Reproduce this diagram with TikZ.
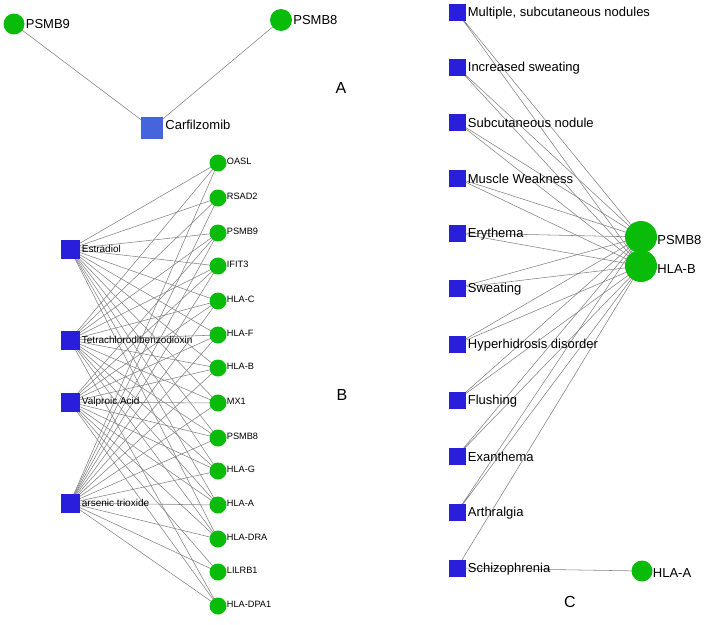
\documentclass[tikz,border=0pt]{standalone}
\usepackage{fontspec}
\setmainfont{Liberation Sans}
\usetikzlibrary{backgrounds}
\definecolor{gnode}{RGB}{10,188,10}
\definecolor{bnode}{RGB}{40,30,220}
\definecolor{anode}{RGB}{70,100,220}
\definecolor{edgec}{RGB}{130,130,130}
\tikzset{
  gene/.style={circle,fill=gnode,inner sep=0pt,minimum size=#1},
  drug/.style={rectangle,fill=bnode,inner sep=0pt,minimum size=#1},
  lblA/.style={font=\fontsize{13}{13}\selectfont,inner sep=1pt},
  lblB/.style={font=\fontsize{10}{10}\selectfont,inner sep=1pt},
  lblG/.style={font=\fontsize{9.2}{10}\selectfont,inner sep=1pt},
  lblC/.style={font=\fontsize{13}{13}\selectfont,inner sep=1pt},
  panel/.style={font=\fontsize{16}{16}\selectfont},
  edge/.style={draw=edgec,line width=0.55pt},
}
\begin{document}
\begin{tikzpicture}[x=1pt,y=-1pt]
\useasboundingbox (0,0) rectangle (704,624);
% ---------- Panel A
\node[gene=21pt,label={[lblA,anchor=west]east:PSMB9}] (a9) at (14,24) {};
\node[gene=22pt,label={[lblA,anchor=west]east:PSMB8}] (a8) at (281,20) {};
\node[rectangle,fill=anode,inner sep=0pt,minimum size=22pt,label={[lblA,anchor=west,xshift=1pt,yshift=3pt]east:Carfilzomib}] (carf) at (152,128) {};
\node[panel] (pA) at (341,88) {A};
% ---------- Panel B
\foreach \n/\y/\t in {est/249/Estradiol,tcd/340/Tetrachlorodibenzodioxin,val/402/Valproic Acid,ars/503/arsenic trioxide}
  \node[drug=19pt,label={[lblB,anchor=west,xshift=1pt]east:\t}] (\n) at (70,\y) {};
\foreach \n/\y/\t in {OASL/163/OASL,RSAD2/198/RSAD2,PSMB9/233/PSMB9,IFIT3/266/IFIT3,HLAC/301/HLA-C,HLAF/335/HLA-F,HLAB/368/HLA-B,MX1/403/MX1,PSMB8/438/PSMB8,HLAG/471/HLA-G,HLAA/505/HLA-A,HLADRA/539/HLA-DRA,LILRB1/572/LILRB1,HLADPA1/606/HLA-DPA1}
  \node[gene=17pt,label={[lblG,anchor=west,xshift=-1pt,yshift=2pt]east:\t}] (\n) at (218,\y) {};
\node[panel] (pB) at (342,395) {B};
% ---------- Panel C
\foreach \n/\y/\t in {c1/12/{Multiple, subcutaneous nodules},c2/67/Increased sweating,c3/122/Subcutaneous nodule,c4/178/Muscle Weakness,c5/233/Erythema,c6/288/Sweating,c7/344/Hyperhidrosis disorder,c8/400/Flushing,c9/456/Exanthema,c10/512/Arthralgia,c11/568/Schizophrenia}
  \node[drug=17pt,label={[lblC,anchor=west,xshift=1pt,yshift=-1pt]east:\t}] (\n) at (457,\y) {};
\node[gene=32pt,label={[lblC,anchor=west,xshift=-1pt,yshift=-3pt]east:PSMB8}] (cP8) at (641,237) {};
\node[gene=32pt,label={[lblC,anchor=west,xshift=-1pt,yshift=-3pt]east:HLA-B}] (cHB) at (641,266) {};
\node[gene=21pt,label={[lblC,anchor=west,xshift=-1pt,yshift=-2pt]east:HLA-A}] (cHA) at (642,571) {};
\node[panel] (pC) at (570,602) {C};
% ---------- Edges
\begin{pgfonlayer}{background}
\draw[edge] (a9.center) -- (carf.center);
\draw[edge] (a8.center) -- (carf.center);
\foreach \g in {OASL,RSAD2,PSMB9,IFIT3,HLAC,HLAF,HLAB,MX1,PSMB8,HLAG,HLAA,HLADRA}
  \draw[edge] (est.center) -- (\g.center);
\foreach \g in {OASL,RSAD2,PSMB9,IFIT3,HLAC,HLAF,HLAB,MX1,PSMB8,HLAG,HLAA,HLADRA,HLADPA1}
  \draw[edge] (tcd.center) -- (\g.center);
\foreach \g in {PSMB9,IFIT3,HLAC,HLAF,HLAB,MX1,PSMB8,HLAG,HLAA,HLADRA,LILRB1,HLADPA1}
  \draw[edge] (val.center) -- (\g.center);
\foreach \g in {OASL,RSAD2,PSMB9,IFIT3,HLAC,HLAF,HLAB,MX1,PSMB8,HLAG,HLAA,HLADRA,LILRB1,HLADPA1}
  \draw[edge] (ars.center) -- (\g.center);
\foreach \c in {c1,c2,c3,c4,c5,c6,c7,c8,c9,c10}
  \draw[edge] (\c.center) -- (cP8.center) (\c.center) -- (cHB.center);
\draw[edge] (c11.center) -- (cHB.center);
\draw[edge] (c11.center) -- (cHA.center);
\end{pgfonlayer}
\end{tikzpicture}
\end{document}
